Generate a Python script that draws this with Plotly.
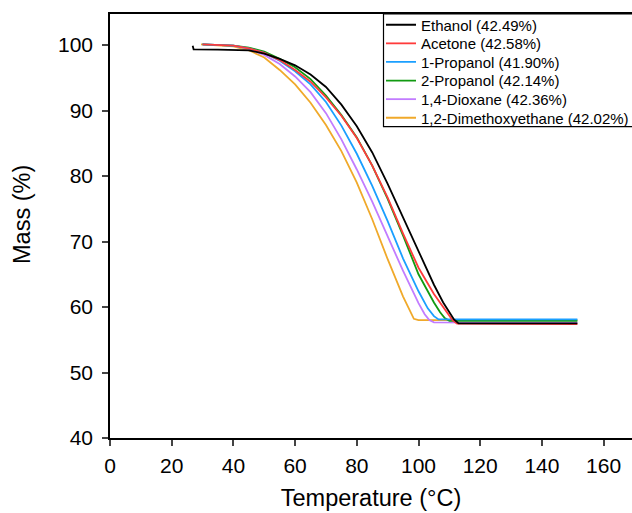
import plotly.graph_objects as go

names = ["Ethanol (42.49%)", "Acetone (42.58%)", "1-Propanol (41.90%)",
         "2-Propanol (42.14%)", "1,4-Dioxane (42.36%)", "1,2-Dimethoxyethane (42.02%)"]
colors = ["#000000", "#ff3b3b", "#1a9fff", "#119a11", "#c27cff", "#f0a92a"]

eth_t = [26.8, 27.1, 35, 42, 45, 50, 55, 60, 65, 70, 75, 80, 85, 90, 95, 100, 105, 108, 110, 111.5, 113, 151.5]
eth_m = [99.9, 99.35, 99.3, 99.3, 99.2, 98.7, 97.9, 96.9, 95.5, 93.6, 90.9, 87.6, 83.6, 78.8, 73.6, 68.4, 63.4, 60.7, 59.1, 58.1, 57.5, 57.5]

ace_t = [30, 40, 45, 50, 55, 60, 65, 70, 75, 80, 85, 90, 95, 100, 105, 108, 110, 111, 112.5, 151.5]
ace_m = [100.1, 99.9, 99.5, 98.8, 97.7, 96.2, 94.4, 92.0, 89.2, 85.8, 81.6, 76.7, 71.2, 66.0, 62.0, 60.0, 58.7, 58.0, 57.45, 57.4]

pr1_t = [30, 40, 45, 50, 55, 60, 65, 70, 75, 80, 85, 90, 95, 100, 103, 105, 106.5, 151.5]
pr1_m = [100.1, 99.9, 99.5, 98.8, 97.6, 96.0, 94.0, 91.3, 87.7, 83.4, 78.5, 73.1, 67.4, 62.4, 59.8, 58.6, 58.1, 58.1]

pr2_t = [30, 40, 45, 50, 55, 60, 65, 70, 75, 80, 85, 90, 95, 100, 105, 107, 108.5, 110, 151.5]
pr2_m = [100.1, 99.9, 99.6, 99.0, 97.9, 96.6, 94.8, 92.3, 89.3, 85.9, 81.6, 76.5, 70.9, 65.0, 60.7, 59.2, 58.3, 57.9, 57.9]

dio_t = [30, 40, 45, 50, 55, 60, 65, 70, 75, 80, 85, 90, 95, 100, 102, 103.5, 105, 151.5]
dio_m = [100.1, 99.9, 99.4, 98.5, 97.1, 95.2, 92.8, 89.6, 85.6, 81.0, 76.1, 70.8, 65.5, 60.6, 58.9, 58.0, 57.65, 57.6]

dme_t = [29.5, 40, 45, 50, 55, 60, 65, 70, 75, 80, 85, 90, 95, 97.5, 98.5, 100, 151.5]
dme_m = [100.1, 99.8, 99.2, 98.1, 96.2, 94.0, 91.2, 87.8, 83.8, 79.0, 73.4, 67.3, 61.6, 59.0, 58.2, 58.0, 58.0]

series_t = [eth_t, ace_t, pr1_t, pr2_t, dio_t, dme_t]
series_m = [eth_m, ace_m, pr1_m, pr2_m, dio_m, dme_m]

x_ticks = [0, 20, 40, 60, 80, 100, 120, 140, 160]
y_ticks = [40, 50, 60, 70, 80, 90, 100]

FONT = "Arial, Liberation Sans, sans-serif"
W, H = 632, 513
ML, MR, MT, MB = 110, 0, 14, 75
PW, PH = W - ML - MR, H - MT - MB

def px_x(p):
    return (p - ML) / PW

def px_y(p):
    return 1 - (p - MT) / PH

legend_ids = ["legend", "legend2", "legend3", "legend4", "legend5", "legend6"]
legend_rows = [25, 43.6, 62.2, 80.8, 99.4, 118]

fig = go.Figure()
for i in reversed(range(6)):
    fig.add_trace(go.Scatter(x=series_t[i], y=series_m[i], mode="lines", name=names[i],
                             line=dict(color=colors[i], width=1.8),
                             legend=legend_ids[i]))

layout_legends = {}
for i, lid in enumerate(legend_ids):
    layout_legends[lid] = dict(x=px_x(381), y=px_y(legend_rows[i]), xanchor="left", yanchor="middle",
                               bgcolor="rgba(0,0,0,0)", borderwidth=0,
                               font=dict(size=15, family=FONT, color="black"), itemwidth=30)

fig.update_layout(
    width=W, height=H,
    margin=dict(l=ML, r=MR, t=MT, b=MB, autoexpand=False),
    paper_bgcolor="white", plot_bgcolor="white",
    font=dict(family=FONT, color="black"),
    showlegend=True,
    **layout_legends,
)
# legend frame
fig.add_shape(type="rect", xref="paper", yref="paper", x0=px_x(383.5), x1=1.2,
              y0=px_y(126.7), y1=1, line=dict(color="black", width=1.2), layer="above")

fig.update_xaxes(range=[0, 169.2], tickvals=x_ticks, ticks="outside", ticklen=6, tickwidth=1.5,
                 showline=True, linecolor="black", linewidth=1.5, mirror=True, showgrid=False,
                 zeroline=False, tickfont=dict(size=21), ticklabelstandoff=2,
                 title=dict(text="Temperature (°C)", font=dict(size=23.5), standoff=14))
fig.update_yaxes(range=[40, 104.74], tickvals=y_ticks, ticks="outside", ticklen=6, tickwidth=1.5,
                 showline=True, linecolor="black", linewidth=1.5, mirror=False, showgrid=False,
                 zeroline=False, tickfont=dict(size=21), ticklabelstandoff=5)
fig.add_annotation(text="Mass (%)", xref="paper", yref="paper", x=px_x(22), y=px_y(215),
                   textangle=-90, showarrow=False, font=dict(size=23.5, family=FONT, color="black"),
                   xanchor="center", yanchor="middle")

fig.write_html("out.html")
